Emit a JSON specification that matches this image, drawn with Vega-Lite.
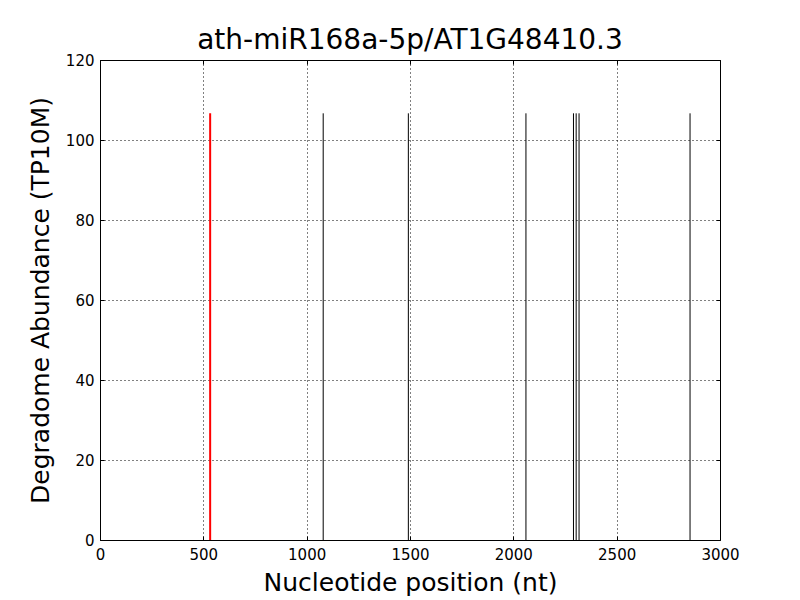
{
  "$schema": "https://vega.github.io/schema/vega-lite/v6.json",
  "width": 620,
  "height": 480,
  "autosize": {"type": "none"},
  "padding": {"left": 100, "top": 60, "right": 80, "bottom": 60},
  "background": "white",
  "title": {"text": "ath-miR168a-5p/AT1G48410.3", "font": "DejaVu Sans", "fontSize": 28, "fontWeight": "normal", "color": "black", "offset": -2},
  "config": {
    "view": {"stroke": "black", "strokeWidth": 1},
    "axis": {
      "labelFont": "DejaVu Sans", "labelFontSize": 15, "labelColor": "black",
      "titleFont": "DejaVu Sans", "titleFontSize": 25, "titleFontWeight": "normal", "titleColor": "black",
      "domain": false, "tickColor": "black", "tickSize": -4, "format": "d",
      "grid": true, "gridColor": "black", "gridDash": [1, 3], "gridOpacity": 1, "gridWidth": 1
    }
  },
  "data": {"values": [
    {"pos": 1080, "abund": 106.67, "kind": "other"},
    {"pos": 1492, "abund": 106.67, "kind": "other"},
    {"pos": 2061, "abund": 106.67, "kind": "other"},
    {"pos": 2291, "abund": 106.67, "kind": "other"},
    {"pos": 2304, "abund": 106.67, "kind": "other"},
    {"pos": 2318, "abund": 106.67, "kind": "other"},
    {"pos": 2855, "abund": 106.67, "kind": "other"},
    {"pos": 533, "abund": 106.67, "kind": "site"}
  ]},
  "layer": [
    {
      "mark": {"type": "rule"},
      "encoding": {
        "x": {"field": "pos", "type": "quantitative", "scale": {"domain": [0, 3000], "nice": false},
              "axis": {"title": "Nucleotide position (nt)", "values": [0,500,1000,1500,2000,2500,3000], "labelPadding": 11, "titlePadding": 8, "labelFlush": false}},
        "y": {"field": "abund", "type": "quantitative", "scale": {"domain": [0, 120], "nice": false},
              "axis": {"title": "Degradome Abundance (TP10M)", "values": [0,20,40,60,80,100,120], "labelPadding": 10, "titlePadding": 12, "labelFlush": false}},
        "y2": {"datum": 0},
        "color": {"field": "kind", "type": "nominal", "scale": {"domain": ["other", "site"], "range": ["black", "red"]}, "legend": null},
        "strokeWidth": {"field": "kind", "type": "nominal", "scale": {"domain": ["other", "site"], "range": [1, 2]}, "legend": null}
      }
    },
    {
      "mark": {"type": "rule", "opacity": 0},
      "encoding": {
        "x": {"field": "pos", "type": "quantitative", "axis": {"orient": "top", "labels": false, "title": null, "grid": false, "values": [0,500,1000,1500,2000,2500,3000]}},
        "y": {"field": "abund", "type": "quantitative", "axis": {"orient": "right", "labels": false, "title": null, "grid": false, "values": [0,20,40,60,80,100,120]}}
      }
    }
  ],
  "resolve": {"axis": {"x": "independent", "y": "independent"}}
}
